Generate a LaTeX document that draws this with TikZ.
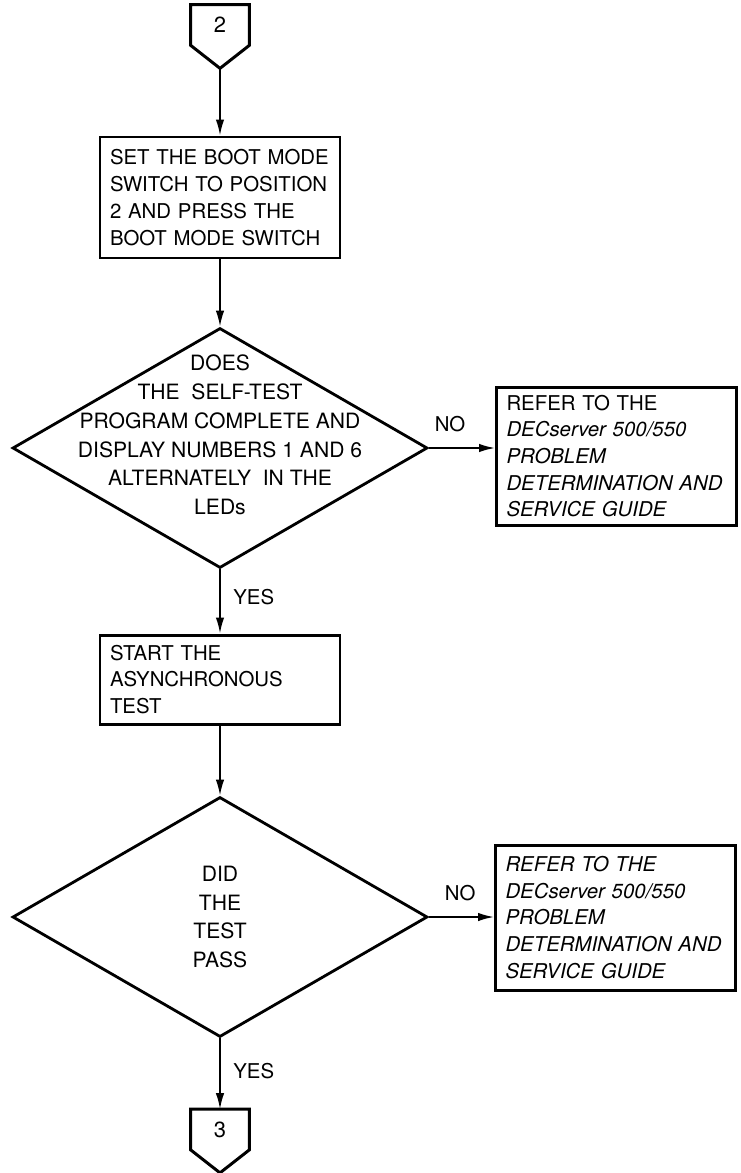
\documentclass[tikz,border=0pt]{standalone}
\usepackage{fontspec}
\setmainfont{TeX Gyre Heros}
\usepackage{tikz}
\usetikzlibrary{calc}
\usetikzlibrary{positioning}
\usetikzlibrary{shapes.geometric}
\usetikzlibrary{arrows.meta}
\tikzstyle{flowfont} = [font=\fontsize{11.6}{15.2}\selectfont]
\tikzstyle{stepnode} = [draw, rectangle, line width=1.7pt, text width=4.4cm, inner xsep=0.2cm, inner ysep=0, align=left, flowfont]
\tikzstyle{decnode} = [draw, diamond, line width=1.6pt, minimum width=8.3cm, minimum height=4.8cm, inner sep=0]
\tikzstyle{dectext} = [align=center, font=\fontsize{12}{16.4}\selectfont]
\tikzstyle{pagenode} = [minimum width=1.16cm, minimum height=0.8cm, inner sep=0, font=\fontsize{12.5}{15}\selectfont]
\tikzstyle{pageline} = [line width=1.7pt, line join=miter]
\tikzstyle{flowline} = [line width=1pt, -{Latex[length=0.32cm, width=0.17cm]}]
\tikzstyle{answer} = [flowfont, inner sep=0.1cm]

\begin{document}
\begin{tikzpicture}
    \useasboundingbox (0,0) rectangle (14.8,-23.46);
    \node[pagenode] (page_two) at (4.40,-0.50) {2};
    \draw[pageline] (page_two.north west) -- (page_two.south west) -- ($(page_two.south)+(0,-0.46)$) coordinate (page_two_tip) -- (page_two.south east) -- (page_two.north east) -- cycle;
    \node[stepnode, minimum height=2.42cm] (boot_box) at ($(page_two)+(0,-3.45)$) {SET THE BOOT MODE\\SWITCH TO POSITION\\2 AND PRESS THE\\BOOT MODE SWITCH};
    \node[decnode] (selftest_dec) at ($(boot_box)+(0,-5.01)$) {};
    \node[dectext] (selftest_txt) at ($(selftest_dec)+(0,0.26)$) {DOES\\THE \ SELF-TEST\\PROGRAM COMPLETE AND\\DISPLAY NUMBERS 1 AND 6\\ALTERNATELY \ IN THE\\LEDs};
    \node[stepnode, minimum height=2.76cm] (refer_a) at ($(selftest_dec)+(7.93,-0.16)$) {REFER TO THE\\\textit{DECserver 500/550}\\\textit{PROBLEM}\\\textit{DETERMINATION AND}\\\textit{SERVICE GUIDE}};
    \node[stepnode, minimum height=1.78cm] (async_box) at ($(selftest_dec)+(0,-4.63)$) {START THE\\ASYNCHRONOUS\\TEST};
    \node[decnode] (pass_dec) at ($(async_box)+(0,-4.75)$) {};
    \node[dectext] (pass_txt) at (pass_dec) {DID\\THE\\TEST\\PASS};
    \node[stepnode, minimum height=2.9cm] (refer_b) at ($(pass_dec)+(7.91,-0.01)$) {\itshape REFER TO THE\\DECserver 500/550\\PROBLEM\\DETERMINATION AND\\SERVICE GUIDE};
    \node[pagenode] (page_three) at ($(pass_dec)+(0,-4.25)$) {3};
    \draw[pageline] (page_three.north west) -- (page_three.south west) -- ($(page_three.south)+(0,-0.46)$) -- (page_three.south east) -- (page_three.north east) -- cycle;
    \draw[flowline] (page_two_tip) -- (boot_box);
    \draw[flowline] (boot_box) -- (selftest_dec);
    \draw[flowline] (selftest_dec.east) -- node[answer, above=0.2cm, pos=0.32] {NO} (selftest_dec.east -| refer_a.west);
    \draw[flowline] (selftest_dec) -- node[answer, right=0.15cm, pos=0.43] {YES} (async_box);
    \draw[flowline] (async_box) -- (pass_dec);
    \draw[flowline] (pass_dec.east) -- node[answer, above=0.2cm, pos=0.48] {NO} (pass_dec.east -| refer_b.west);
    \draw[flowline] (pass_dec) -- node[answer, right=0.15cm, pos=0.46] {YES} (page_three);
\end{tikzpicture}
\end{document}
